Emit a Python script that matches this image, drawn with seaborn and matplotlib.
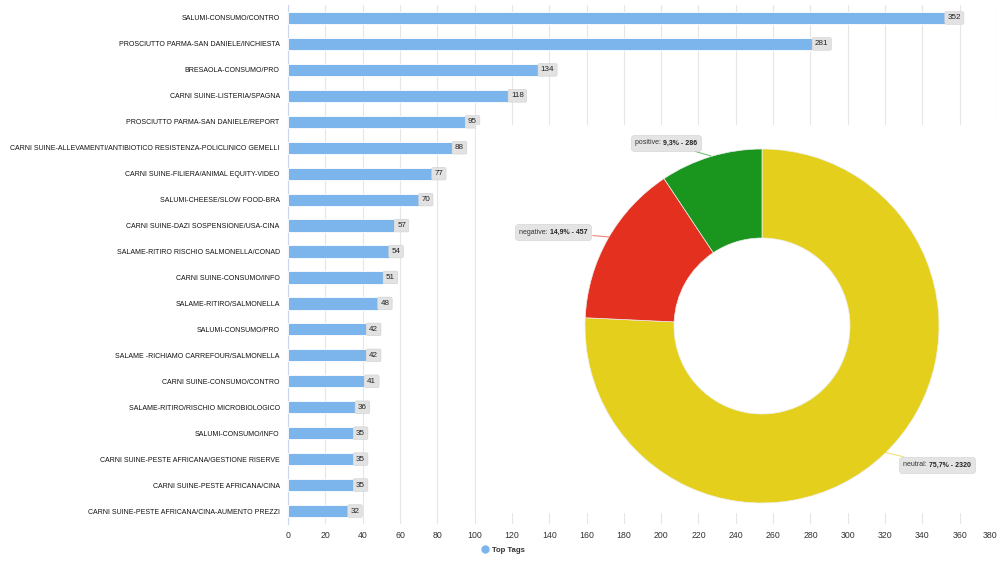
import numpy as np
import pandas as pd
import matplotlib
matplotlib.use('Agg')
import matplotlib.pyplot as plt
from matplotlib.offsetbox import TextArea, HPacker, AnnotationBbox
from matplotlib.lines import Line2D
import seaborn as sns

# bar data (top tags)
tags = ['SALUMI-CONSUMO/CONTRO',
        'PROSCIUTTO PARMA-SAN DANIELE/INCHIESTA',
        'BRESAOLA-CONSUMO/PRO',
        'CARNI SUINE-LISTERIA/SPAGNA',
        'PROSCIUTTO PARMA-SAN DANIELE/REPORT',
        'CARNI SUINE-ALLEVAMENTI/ANTIBIOTICO RESISTENZA-POLICLINICO GEMELLI',
        'CARNI SUINE-FILIERA/ANIMAL EQUITY-VIDEO',
        'SALUMI-CHEESE/SLOW FOOD-BRA',
        'CARNI SUINE-DAZI SOSPENSIONE/USA-CINA',
        'SALAME-RITIRO RISCHIO SALMONELLA/CONAD',
        'CARNI SUINE-CONSUMO/INFO',
        'SALAME-RITIRO/SALMONELLA',
        'SALUMI-CONSUMO/PRO',
        'SALAME -RICHIAMO CARREFOUR/SALMONELLA',
        'CARNI SUINE-CONSUMO/CONTRO',
        'SALAME-RITIRO/RISCHIO MICROBIOLOGICO',
        'SALUMI-CONSUMO/INFO',
        'CARNI SUINE-PESTE AFRICANA/GESTIONE RISERVE',
        'CARNI SUINE-PESTE AFRICANA/CINA',
        'CARNI SUINE-PESTE AFRICANA/CINA-AUMENTO PREZZI']
counts = [352, 281, 134, 118, 95, 88, 77, 70, 57, 54, 51, 48, 42, 42, 41, 36, 35, 35, 35, 32]
x_ticks = list(range(0, 400, 20))

# sentiment data
sentiments = ['neutral', 'negative', 'positive']
sent_values = [2320, 457, 286]
sent_colors = ['#e4d01c', '#e4301e', '#1a961f']

sns.set_style('white')
plt.rcParams['font.family'] = ['Liberation Sans', 'DejaVu Sans']

W, H = 1004, 566
fig = plt.figure(figsize=(W / 100, H / 100), dpi=100)
fig.patch.set_facecolor('white')

# bar axes in pixel layout
ax = fig.add_axes([288 / W, 1 - 524 / H, (997 - 288) / W, (524 - 5) / H])
df = pd.DataFrame({'tag': tags, 'count': counts})
sns.barplot(data=df, y='tag', x='count', orient='h', color='#7cb5ec', saturation=1,
            width=0.47, edgecolor='white', linewidth=0.6, ax=ax, zorder=3)
ax.set_xlim(0, 380)
ax.set_ylim(len(tags) - 0.5, -0.5)
ax.set_xticks(x_ticks)
ax.set_xticklabels([str(t) for t in x_ticks], fontsize=6.3, color='#333333')
ax.get_xticklabels()[-1].set_ha('right')
ax.set_yticks(range(len(tags)))
ax.set_yticklabels(tags, fontsize=5.0, color='#111111')
ax.tick_params(axis='both', length=0)
ax.tick_params(axis='y', pad=6)
ax.tick_params(axis='x', pad=5)
ax.set_xlabel('')
ax.set_ylabel('')
ax.grid(axis='x', color='#e6e6e6', linewidth=0.8, zorder=0)
for s in ['top', 'right', 'bottom']:
    ax.spines[s].set_visible(False)
ax.spines['left'].set_color('#ccd6eb')
ax.spines['left'].set_linewidth(0.8)

for i, v in enumerate(counts):
    ax.annotate(str(v), xy=(v, i), xytext=(2.0, 0), textcoords='offset points',
                ha='left', va='center', fontsize=5.8, color='#222222', zorder=5,
                bbox=dict(boxstyle='round,pad=0.35,rounding_size=0.2', fc='#e2e2e2', ec='#d0d0d0', lw=0.4))

# pie overlay with white background, coordinates in pixels (y upwards)
px0, px1, py0, py1 = 476, 1000, 125, 513
pax = fig.add_axes([px0 / W, 1 - py1 / H, (px1 - px0) / W, (py1 - py0) / H], zorder=5)
pax.set_facecolor('white')
cx, cy, r = 762, H - 326, 177
pax.pie(sent_values, colors=sent_colors, startangle=90, counterclock=False,
        radius=r, center=(cx, cy), frame=True,
        wedgeprops=dict(width=89, edgecolor='#eeeeee', linewidth=0.5))
pax.set_aspect('auto')
pax.set_xlim(px0, px1)
pax.set_ylim(H - py1, H - py0)
pax.set_xticks([])
pax.set_yticks([])
for s in pax.spines.values():
    s.set_visible(False)

total = sum(sent_values)
label_pos = {'positive': ((666, 143), (711, 156)),
             'negative': ((553, 232), (609, 237)),
             'neutral': ((937, 465), (884, 452))}
for name, val, col in zip(sentiments, sent_values, sent_colors):
    pct = ('%.1f' % (100 * val / total)).replace('.', ',')
    t1 = TextArea(name + ': ', textprops=dict(fontsize=5.0, color='#333333'))
    t2 = TextArea('%s%% - %d' % (pct, val), textprops=dict(fontsize=5.0, color='#222222', weight='bold'))
    box = HPacker(children=[t1, t2], pad=0, sep=0, align='baseline')
    (bx, by), (ex, ey) = label_pos[name]
    ab = AnnotationBbox(box, (ex, H - ey), xybox=(bx, H - by), xycoords='data', boxcoords='data',
                        frameon=True, pad=0.3,
                        bboxprops=dict(boxstyle='round,pad=0.3,rounding_size=0.2', fc='#e4e4e4', ec='#d0d0d0', lw=0.4),
                        arrowprops=dict(arrowstyle='-', color=col, alpha=0.6, lw=0.8, shrinkA=1, shrinkB=0))
    pax.add_artist(ab)

# legend
handle = Line2D([], [], marker='o', linestyle='none', markersize=5, color='#7cb5ec')
leg = fig.legend([handle], ['Top Tags'], loc='center', bbox_to_anchor=(503 / W, 1 - 550 / H),
                 frameon=False, fontsize=5.6, handletextpad=0.5, handlelength=1.0)
for t in leg.get_texts():
    t.set_weight('bold')
    t.set_color('#333333')

plt.savefig('out.png', dpi=100, facecolor='white')
